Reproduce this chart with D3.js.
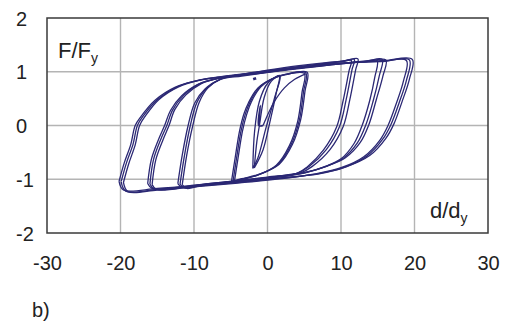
<!DOCTYPE html>
<html>
<head>
<meta charset="utf-8">
<script src="https://cdn.jsdelivr.net/npm/d3@7"></script>
<style>
  html, body { margin: 0; padding: 0; background: #fff; }
  text { font-family: "Liberation Sans", Arial, sans-serif; fill: #222; }
</style>
</head>
<body>
<div id="chart"></div>
<script>
// tick values
const xTicks = [-30, -20, -10, 0, 10, 20, 30];
const yTicks = [-2, -1, 0, 1, 2];

// hysteresis cycles, [d/dy, F/Fy]
const elastic = [[-0.6, 0.0], [-1.2, 0.0], [-1.0, 0.36], [-1.25, 0.02], [-0.95, 0.38], [-1.15, 0.0]];
const firstLoad = [[-0.6, 0.0], [0.2, 0.25], [0.95, 0.45], [2.3, 0.7], [3.7, 0.86], [5.2, 0.96]];
const mark = [[-1.95, 0.86], [-1.55, 0.88]];

const lens = [
  [[-1.8, -0.79], [-1.45, -0.3], [-1.1, 0.0], [-0.45, 0.52], [0.5, 0.82], [1.6, 0.92], [1.2, 0.61], [0.3, 0.05], [-0.6, -0.45], [-1.8, -0.79]],
  [[-2.0, -0.8], [-1.75, -0.1], [-1.1, 0.45], [0.05, 0.79], [1.7, 0.93], [0.95, 0.51], [-0.2, -0.04], [-1.3, -0.6], [-2.0, -0.8]]
];

const loop5 = [
  [[-4.9, -1.04], [-4.4, -0.6], [-3.8, -0.1], [-3.2, 0.22], [-2.6, 0.42], [-1.3, 0.7], [0.5, 0.86], [2.3, 0.94], [5.4, 0.99], [5.1, 0.64], [4.5, 0.1], [3.4, -0.35], [1.6, -0.72], [-1.2, -0.91], [-3.5, -0.99], [-4.9, -1.04]],
  [[-4.7, -1.05], [-4.2, -0.6], [-3.6, -0.1], [-3.0, 0.22], [-2.4, 0.43], [-1.1, 0.71], [0.6, 0.87], [2.4, 0.95], [5.2, 0.98], [4.9, 0.63], [4.3, 0.08], [3.2, -0.36], [1.4, -0.73], [-1.3, -0.92], [-3.5, -1.0], [-4.7, -1.05]],
  [[-4.5, -1.04], [-4.0, -0.6], [-3.4, -0.1], [-2.8, 0.22], [-2.2, 0.44], [-0.9, 0.72], [0.7, 0.87], [2.5, 0.95], [5.0, 0.97], [4.7, 0.62], [4.1, 0.07], [3.0, -0.37], [1.2, -0.74], [-1.4, -0.93], [-3.4, -1.0], [-4.5, -1.04]]
];

const loop12 = [
  [[-12.2, -1.08], [-11.6, -0.55], [-10.8, 0], [-9.9, 0.42], [-8.5, 0.68], [-6.6, 0.85], [-3.5, 0.92], [0, 0.99], [4, 1.07], [8, 1.15], [10.5, 1.2], [12.3, 1.24], [12, 1.04], [11.2, 0.48], [10.3, -0.02], [8.5, -0.45], [6.1, -0.76], [4.5, -0.88], [0, -0.96], [-5, -1.04], [-9, -1.1], [-11.6, -1.15], [-12.2, -1.08]],
  [[-11.9, -1.09], [-11.3, -0.56], [-10.5, 0], [-9.6, 0.43], [-8.3, 0.69], [-6.4, 0.86], [-3.5, 0.94], [0, 1.01], [4, 1.09], [8, 1.16], [10.3, 1.2], [11.8, 1.23], [11.5, 1.04], [10.7, 0.48], [9.8, -0.02], [8.0, -0.45], [5.7, -0.76], [4.2, -0.88], [0, -0.97], [-5, -1.05], [-9, -1.11], [-11.3, -1.16], [-11.9, -1.09]],
  [[-11.6, -1.1], [-11.0, -0.56], [-10.2, -0.02], [-9.3, 0.43], [-8.1, 0.7], [-6.3, 0.87], [-3.5, 0.95], [0, 1.03], [4, 1.11], [8, 1.17], [10.2, 1.19], [11.4, 1.21], [11.1, 1.02], [10.3, 0.47], [9.4, -0.03], [7.6, -0.46], [5.4, -0.77], [4.0, -0.89], [0, -0.98], [-5, -1.06], [-9, -1.12], [-11.0, -1.17], [-11.6, -1.1]]
];

const loop16 = [
  [[-16.3, -1.08], [-15.8, -0.63], [-14.8, -0.25], [-14.0, 0], [-13.2, 0.28], [-11.7, 0.55], [-9.4, 0.77], [-6.6, 0.88], [-3, 0.94], [2, 1.02], [7, 1.1], [11, 1.16], [13.5, 1.19], [16.1, 1.22], [15.7, 0.92], [14.8, 0.48], [13.8, 0.02], [12.6, -0.32], [10.6, -0.6], [8.2, -0.75], [5.5, -0.86], [1, -0.95], [-5, -1.04], [-10, -1.11], [-15.7, -1.17], [-16.3, -1.08]],
  [[-16.0, -1.09], [-15.5, -0.63], [-14.5, -0.25], [-13.7, 0], [-12.9, 0.29], [-11.4, 0.56], [-9.2, 0.78], [-6.5, 0.88], [-3, 0.95], [2, 1.03], [7, 1.11], [11, 1.17], [13.5, 1.2], [15.6, 1.23], [15.2, 0.92], [14.4, 0.47], [13.4, 0.02], [12.2, -0.33], [10.3, -0.61], [8, -0.76], [5.3, -0.87], [1, -0.96], [-5, -1.05], [-10, -1.12], [-15.4, -1.18], [-16.0, -1.09]],
  [[-15.7, -1.1], [-15.2, -0.64], [-14.2, -0.26], [-13.4, 0], [-12.6, 0.3], [-11.1, 0.57], [-9.0, 0.78], [-6.4, 0.89], [-3, 0.96], [2, 1.04], [7, 1.12], [11, 1.17], [13, 1.19], [14.9, 1.21], [14.6, 0.9], [13.9, 0.46], [12.9, 0.01], [11.8, -0.33], [10, -0.62], [7.7, -0.77], [5.1, -0.88], [1, -0.97], [-5, -1.06], [-10, -1.13], [-15.1, -1.19], [-15.7, -1.1]]
];

const loop20 = [
  [[-20.2, -1.04], [-19.5, -0.7], [-18.6, -0.35], [-18.0, 0], [-17.2, 0.17], [-15.3, 0.47], [-12.6, 0.71], [-9.4, 0.84], [-6.5, 0.9], [-2, 0.96], [3, 1.05], [8, 1.12], [12.5, 1.18], [16, 1.21], [19.7, 1.23], [19.3, 0.86], [18.3, 0.44], [17.2, 0.03], [16.1, -0.24], [13.9, -0.56], [10.7, -0.77], [7, -0.9], [2, -0.97], [-4, -1.05], [-10, -1.12], [-15, -1.17], [-19.6, -1.2], [-20.2, -1.04]],
  [[-19.9, -1.04], [-19.2, -0.7], [-18.3, -0.35], [-17.7, 0], [-16.9, 0.18], [-15, 0.48], [-12.3, 0.72], [-9.2, 0.85], [-6.4, 0.9], [-2, 0.97], [3, 1.06], [8, 1.13], [12.5, 1.18], [16, 1.2], [19.3, 1.22], [18.9, 0.84], [17.9, 0.42], [16.8, 0.02], [15.7, -0.25], [13.5, -0.57], [10.4, -0.78], [6.8, -0.9], [2, -0.98], [-4, -1.06], [-10, -1.13], [-15, -1.19], [-19.3, -1.22], [-19.9, -1.05]],
  [[-19.6, -1.06], [-18.9, -0.72], [-18.0, -0.36], [-17.4, 0], [-16.6, 0.18], [-14.8, 0.48], [-12.1, 0.72], [-9.0, 0.85], [-6.3, 0.91], [-2, 0.98], [3, 1.07], [8, 1.14], [12.5, 1.18], [15.5, 1.19], [18.9, 1.21], [18.5, 0.83], [17.5, 0.4], [16.4, 0], [15.3, -0.27], [13.1, -0.58], [10.1, -0.78], [6.5, -0.9], [2, -0.99], [-4, -1.07], [-10, -1.14], [-15, -1.2], [-19.0, -1.23], [-19.6, -1.06]]
];

const W = 517, H = 324;
const margin = {top: 18, right: 29, bottom: 91, left: 47};
const width = W - margin.left - margin.right;
const height = H - margin.top - margin.bottom;
const ink = '#2b2874';

const svg = d3.select('#chart')
  .append('svg')
  .attr('width', W)
  .attr('height', H);

const g = svg.append('g')
  .attr('transform', 'translate(' + margin.left + ',' + margin.top + ')');

const x = d3.scaleLinear().domain([-30, 30]).range([0, width]);
const y = d3.scaleLinear().domain([-2, 2]).range([height, 0]);

// grid
g.append('g')
  .selectAll('line')
  .data(xTicks.slice(1, -1))
  .enter()
  .append('line')
  .attr('x1', d => x(d)).attr('x2', d => x(d))
  .attr('y1', 0).attr('y2', height)
  .style('stroke', '#b4b4b4').style('stroke-width', 1.4);

g.append('g')
  .selectAll('line')
  .data(yTicks.slice(1, -1))
  .enter()
  .append('line')
  .attr('x1', 0).attr('x2', width)
  .attr('y1', d => y(d)).attr('y2', d => y(d))
  .style('stroke', '#b4b4b4').style('stroke-width', 1.4);

// curves
const line = d3.line()
  .x(d => x(d[0]))
  .y(d => y(d[1]))
  .curve(d3.curveCatmullRom.alpha(0.5));

const cycles = [elastic, firstLoad].concat(lens, loop5, loop12, loop16, loop20);

g.append('g')
  .selectAll('path')
  .data(cycles)
  .enter()
  .append('path')
  .attr('d', line)
  .style('fill', 'none')
  .style('stroke', ink)
  .style('stroke-width', 1.3)
  .style('stroke-linejoin', 'round');

g.append('path')
  .attr('d', d3.line().x(d => x(d[0])).y(d => y(d[1]))(mark))
  .style('fill', 'none')
  .style('stroke', ink)
  .style('stroke-width', 2.6);

// frame
g.append('rect')
  .attr('x', 0).attr('y', 0)
  .attr('width', width).attr('height', height)
  .style('fill', 'none')
  .style('stroke', '#3a3a3a')
  .style('stroke-width', 1.5);

// axes (labels only)
const xAxis = g.append('g')
  .attr('transform', 'translate(0,' + height + ')')
  .call(d3.axisBottom(x).tickValues(xTicks).tickSize(0).tickPadding(20).tickFormat(d => String(d)));
xAxis.select('.domain').remove();
xAxis.selectAll('text')
  .attr('dy', null)
  .attr('y', 37)
  .style('font-size', '20px')
  .style('font-family', '"Liberation Sans", Arial, sans-serif')
  .style('fill', '#222');

const yAxis = g.append('g')
  .call(d3.axisLeft(y).tickValues(yTicks).tickSize(0).tickFormat(d => String(d)));
yAxis.select('.domain').remove();
yAxis.selectAll('text')
  .attr('x', -31)
  .attr('dy', null)
  .attr('y', 7)
  .attr('text-anchor', 'start')
  .style('font-size', '20px')
  .style('font-family', '"Liberation Sans", Arial, sans-serif')
  .style('fill', '#222');

// axis titles
const ty = g.append('text')
  .attr('x', 11).attr('y', 40)
  .style('font-size', '22px');
ty.append('tspan').text('F/F');
ty.append('tspan').attr('dy', 5).style('font-size', '14px').text('y');

const tx = g.append('text')
  .attr('x', 383).attr('y', 200)
  .style('font-size', '22px');
tx.append('tspan').text('d/d');
tx.append('tspan').attr('dy', 5).style('font-size', '14px').text('y');

svg.append('text')
  .attr('x', 32).attr('y', 317)
  .style('font-size', '20px')
  .text('b)');
</script>
</body>
</html>
